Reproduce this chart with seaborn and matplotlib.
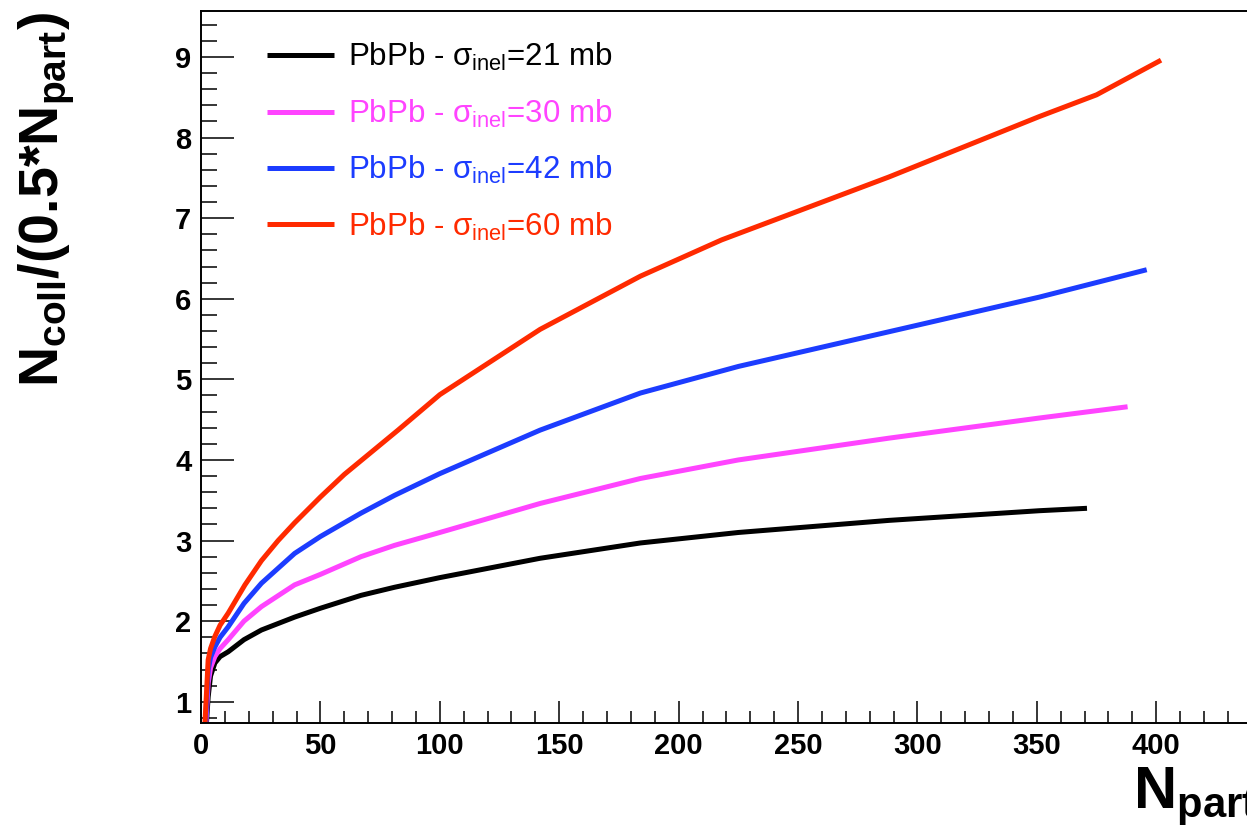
import numpy as np
import pandas as pd
import matplotlib
matplotlib.use("Agg")
import matplotlib.pyplot as plt
from matplotlib.ticker import MultipleLocator
import seaborn as sns

# Glauber-type N_coll / (0.5 N_part) versus N_part for PbPb at several sigma_inel
npart_21 = [2.2, 3.0, 4.0, 5.8, 8, 11.4, 18, 25.3, 39.2, 50, 67, 81, 100, 142, 184, 225, 288, 351, 371]
ratio_21 = [0.70, 1.06, 1.32, 1.48, 1.56, 1.62, 1.77, 1.89, 2.05, 2.16, 2.32, 2.42, 2.54, 2.78, 2.97, 3.10, 3.25, 3.37, 3.40]

npart_30 = [2.0, 3.0, 4.0, 5.8, 8, 11.4, 18, 25.3, 39.2, 50, 67, 81, 100, 142, 184, 225, 288, 351, 388]
ratio_30 = [0.70, 1.23, 1.42, 1.56, 1.66, 1.77, 2.00, 2.18, 2.45, 2.58, 2.80, 2.94, 3.10, 3.46, 3.77, 4.00, 4.27, 4.52, 4.66]

npart_42 = [1.8, 3.0, 4.0, 5.8, 8, 11.4, 18, 25.3, 39.2, 50, 67, 81, 100, 142, 184, 225, 288, 351, 396]
ratio_42 = [0.70, 1.39, 1.55, 1.68, 1.80, 1.93, 2.22, 2.47, 2.84, 3.05, 3.34, 3.56, 3.83, 4.37, 4.83, 5.16, 5.59, 6.02, 6.36]

npart_60 = [1.6, 3.0, 4.0, 5.8, 8, 11.4, 18.4, 25.3, 32.3, 39.2, 50, 60, 82.5, 100, 142, 184, 218, 288, 351, 375, 402]
ratio_60 = [0.70, 1.52, 1.66, 1.81, 1.95, 2.10, 2.45, 2.75, 3.00, 3.22, 3.54, 3.82, 4.37, 4.81, 5.62, 6.28, 6.73, 7.51, 8.26, 8.53, 8.96]

sigma_labels = ["21 mb", "30 mb", "42 mb", "60 mb"]
line_colors = ["#000000", "#ff44ff", "#1c3cff", "#ff2a00"]

frames = []
for lab, xs, ys in zip(sigma_labels,
                       [npart_21, npart_30, npart_42, npart_60],
                       [ratio_21, ratio_30, ratio_42, ratio_60]):
    frames.append(pd.DataFrame({"npart": xs, "ratio": ys, "sigma": lab}))
df = pd.concat(frames, ignore_index=True)

sns.set_theme(style="ticks")
plt.rcParams["font.family"] = ["Liberation Sans", "DejaVu Sans"]
plt.rcParams["mathtext.fontset"] = "custom"
plt.rcParams["mathtext.rm"] = "Liberation Sans"
plt.rcParams["mathtext.it"] = "Liberation Sans:italic"
plt.rcParams["mathtext.bf"] = "Liberation Sans:bold"
plt.rcParams["text.color"] = "black"
plt.rcParams["xtick.color"] = "black"
plt.rcParams["ytick.color"] = "black"
plt.rcParams["xtick.labelcolor"] = "black"
plt.rcParams["ytick.labelcolor"] = "black"
plt.rcParams["axes.edgecolor"] = "black"

W, H = 1247, 825
fig = plt.figure(figsize=(W / 100, H / 100), dpi=100)
left, right, top, bottom = 201, 1247, 11, 722.7
ax = fig.add_axes([left / W, 1 - bottom / H, (right - left) / W, (bottom - top) / H])

sns.lineplot(data=df, x="npart", y="ratio", hue="sigma", hue_order=sigma_labels,
             palette=dict(zip(sigma_labels, line_colors)), estimator=None,
             sort=False, linewidth=3.6, legend=False, ax=ax)
for ln in ax.lines:
    ln.set_solid_capstyle("butt")
    ln.set_solid_joinstyle("round")

ax.set_xlim(0, 438)
ax.set_ylim(0.74, 9.57)
ax.set_xlabel("")
ax.set_ylabel("")

ax.xaxis.set_major_locator(MultipleLocator(50))
ax.xaxis.set_minor_locator(MultipleLocator(10))
ax.yaxis.set_major_locator(MultipleLocator(1))
ax.yaxis.set_minor_locator(MultipleLocator(0.2))

ax.tick_params(axis="x", which="major", direction="in", length=15.8, width=1.1,
               pad=7, labelsize=21, colors="black")
ax.tick_params(axis="x", which="minor", direction="in", length=8.6, width=1.1, colors="black")
ax.tick_params(axis="y", which="major", direction="in", length=23.5, width=1.1,
               pad=7, labelsize=21, colors="black")
ax.tick_params(axis="y", which="minor", direction="in", length=11.5, width=1.1, colors="black")
for lab in ax.get_xticklabels() + ax.get_yticklabels():
    lab.set_fontweight("bold")
    lab.set_color("black")

for side in ["left", "bottom", "top"]:
    ax.spines[side].set_linewidth(1.4)
    ax.spines[side].set_color("black")
ax.spines["right"].set_visible(False)

# legend: coloured entries in the upper-left corner
handles = ax.lines[:4]
labels = [r"PbPb - $\mathrm{\sigma}_{\mathrm{inel}}$=" + s for s in sigma_labels]
leg = ax.legend(handles, labels, loc="upper left",
                bbox_to_anchor=(267 / W, 1 - 41 / H), bbox_transform=fig.transFigure,
                frameon=False, fontsize=22.5, handlelength=2.15, handletextpad=0.45,
                labelspacing=0.78, borderpad=0, borderaxespad=0)
for txt, c in zip(leg.get_texts(), line_colors):
    txt.set_color(c)

# axis titles in the corners
fig.text(1133 / W, 1 - 809 / H, r"$\mathbf{N_{part}}$", fontsize=43,
         ha="left", va="baseline")
fig.text(47 / W, 1 - 12 / H, r"$\mathbf{N_{coll}/(0.5{*}N_{part})}$", fontsize=40,
         rotation=90, ha="center", va="top")

fig.savefig("out.png", dpi=100)
